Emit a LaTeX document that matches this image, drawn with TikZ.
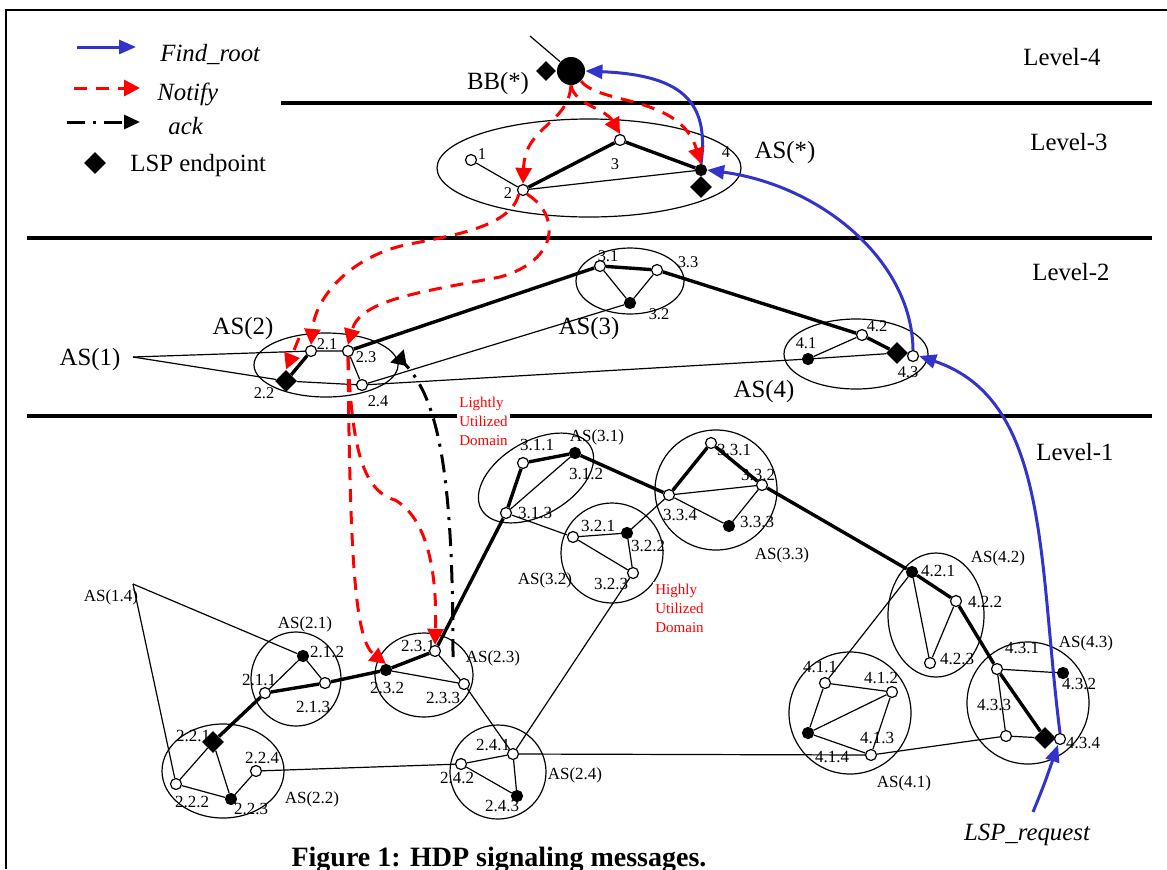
\documentclass[tikz,border=0pt]{standalone}
\usepackage{fontspec}
\setmainfont{Liberation Serif}
\usetikzlibrary{arrows.meta,shapes.geometric}

\definecolor{rootblue}{RGB}{51,51,204}

\tikzset{
  rtr/.style={circle,draw,fill=white,line width=0.6pt,inner sep=0pt,minimum size=5.5pt},
  brtr/.style={circle,draw,fill=black,line width=0.6pt,inner sep=0pt,minimum size=5.5pt},
  lspend/.style={diamond,fill=black,inner sep=0pt,minimum size=11pt},
  dom/.style={ellipse,draw,line width=0.6pt,inner sep=0pt},
  lnk/.style={line width=0.6pt},
  lsp/.style={line width=1.7pt},
  lvl/.style={line width=2pt},
  numlab/.style={inner sep=0pt,font=\fontsize{8.2}{9}\selectfont},
  sublab/.style={inner sep=0pt,font=\fontsize{8.5}{10}\selectfont},
  biglab/.style={inner sep=0pt,font=\fontsize{12.4}{14}\selectfont},
  redlab/.style={inner sep=1pt,align=left,text=red,fill=white,font=\fontsize{7.5}{9.5}\selectfont},
  findroot/.style={rootblue,line width=1.5pt,-{Triangle[length=8.5pt,width=7pt]}},
  notify/.style={red,line width=1.5pt,dash pattern=on 6.5pt off 4.5pt,-{Triangle[length=8pt,width=8pt]}},
  ackmsg/.style={black,line width=1.5pt,dash pattern=on 9pt off 4pt on 1.5pt off 4pt,-{Triangle[length=8pt,width=7pt]}}
}

\begin{document}
\begin{tikzpicture}[x=0.5pt,y=-0.5pt]
\useasboundingbox (0,0) rectangle (1167,869);
\clip (0,0) rectangle (1167,869);

% frame and level lines
\draw[line width=1pt] (6,869) -- (6,10) -- (1167,10);
\draw[lvl] (281,103) -- (1152,103);
\draw[lvl] (27,238) -- (1152,238);
\draw[lvl] (27,416) -- (1152,416);

\node[biglab,anchor=base west] (lv4) at (1023,65) {Level-4};
\node[biglab,anchor=base west] (lv3) at (1030,150) {Level-3};
\node[biglab,anchor=base west] (lv2) at (1032,280) {Level-2};
\node[biglab,anchor=base west] (lv1) at (1036,460) {Level-1};

% legend
\coordinate (lgf1) at (77,47);
\coordinate (lgf2) at (136,47);
\coordinate (lgn1) at (74,88);
\coordinate (lgn2) at (140,88);
\coordinate (lga1) at (67,122);
\coordinate (lga2) at (140,122);
\draw[findroot] (lgf1) -- (lgf2);
\draw[notify] (lgn1) -- (lgn2);
\draw[ackmsg] (lga1) -- (lga2);
\node[lspend] (lgd) at (95,163) {};
\node[biglab,anchor=base west,font=\fontsize{12.4}{14}\selectfont\itshape] (lgftxt) at (160,61) {Find\_root};
\node[biglab,anchor=base west,font=\fontsize{12.4}{14}\selectfont\itshape] (lgntxt) at (157,100) {Notify};
\node[biglab,anchor=base west,font=\fontsize{12.4}{14}\selectfont\itshape] (lgatxt) at (168,134) {ack};
\node[biglab,anchor=base west] (lgdtxt) at (130,171) {LSP endpoint};

% domains
\node[dom,minimum width=152pt,minimum height=49pt] (asS) at (589,168) {};
\node[dom,minimum width=72pt,minimum height=32pt] (as2) at (326,365) {};
\node[dom,minimum width=54pt,minimum height=33pt] (as3) at (630,281) {};
\node[dom,minimum width=72pt,minimum height=35pt] (as4) at (856,354) {};
\node[dom,minimum width=63pt,minimum height=37pt,rotate=30] (as31) at (536,478) {};
\node[dom,minimum width=51pt,minimum height=50pt] (as32) at (612,553) {};
\node[dom,minimum width=61pt,minimum height=60pt] (as33) at (716,490) {};
\node[dom,minimum width=45pt,minimum height=47pt] (as21) at (296,679) {};
\node[dom,minimum width=61pt,minimum height=47pt] (as22) at (223,771) {};
\node[dom,minimum width=49pt,minimum height=42pt] (as23) at (424,675) {};
\node[dom,minimum width=48pt,minimum height=47pt] (as24) at (498,772) {};
\node[dom,minimum width=48pt,minimum height=62pt] (as42) at (936,615) {};
\node[dom,minimum width=61pt,minimum height=61pt] (as41) at (850,713) {};
\node[dom,minimum width=61pt,minimum height=61pt] (as43) at (1028,703) {};

% domain names
\node[biglab] (tbb) at (498,84) {BB(*)};
\node[biglab] (tasS) at (785,153) {AS(*)};
\node[biglab] (tas1) at (90,360) {AS(1)};
\node[biglab] (tas2) at (243,329) {AS(2)};
\node[biglab] (tas3) at (589,329) {AS(3)};
\node[biglab] (tas4) at (764,392) {AS(4)};
\node[sublab] (tas14) at (111,597) {AS(1.4)};
\node[sublab] (tas21) at (305,624) {AS(2.1)};
\node[sublab] (tas22) at (312,799) {AS(2.2)};
\node[sublab] (tas23) at (493,658) {AS(2.3)};
\node[sublab] (tas24) at (575,775) {AS(2.4)};
\node[sublab] (tas31) at (597,437) {AS(3.1)};
\node[sublab] (tas32) at (545,580) {AS(3.2)};
\node[sublab] (tas33) at (782,555) {AS(3.3)};
\node[sublab] (tas41) at (904,783) {AS(4.1)};
\node[sublab] (tas42) at (998,558) {AS(4.2)};
\node[sublab] (tas43) at (1086,643) {AS(4.3)};
\node[redlab,anchor=west] (tlight) at (457,421) {Lightly\\Utilized\\Domain};
\node[redlab,anchor=west] (theavy) at (653,608) {Highly\\Utilized\\Domain};

% router labels
\node[numlab] (t1) at (482,154) {1};
\node[numlab] (t2) at (508,193) {2};
\node[numlab] (t3) at (615,164) {3};
\node[numlab] (t4) at (726,152) {4};
\node[numlab] (t21) at (327,344) {2.1};
\node[numlab] (t22) at (264,393) {2.2};
\node[numlab] (t23) at (366,357) {2.3};
\node[numlab] (t24) at (378,401) {2.4};
\node[numlab] (t31) at (608,256) {3.1};
\node[numlab] (t32) at (659,314) {3.2};
\node[numlab] (t33) at (688,262) {3.3};
\node[numlab] (t41) at (806,343) {4.1};
\node[numlab] (t42) at (877,326) {4.2};
\node[numlab] (t43) at (908,372) {4.3};
\node[sublab] (t211) at (259,680) {2.1.1};
\node[sublab] (t212) at (327,652) {2.1.2};
\node[sublab] (t213) at (313,707) {2.1.3};
\node[sublab] (t221) at (193,736) {2.2.1};
\node[sublab] (t222) at (192,802) {2.2.2};
\node[sublab] (t223) at (251,809) {2.2.3};
\node[sublab] (t224) at (262,758) {2.2.4};
\node[sublab] (t231) at (418,646) {2.3.1};
\node[sublab] (t232) at (387,688) {2.3.2};
\node[sublab] (t233) at (443,698) {2.3.3};
\node[sublab] (t241) at (493,745) {2.4.1};
\node[sublab] (t242) at (457,778) {2.4.2};
\node[sublab] (t243) at (502,806) {2.4.3};
\node[sublab] (t311) at (537,445) {3.1.1};
\node[sublab] (t312) at (586,474) {3.1.2};
\node[sublab] (t313) at (535,513) {3.1.3};
\node[sublab] (t321) at (598,526) {3.2.1};
\node[sublab] (t322) at (648,546) {3.2.2};
\node[sublab] (t323) at (611,584) {3.2.3};
\node[sublab] (t331) at (734,450) {3.3.1};
\node[sublab] (t332) at (758,475) {3.3.2};
\node[sublab] (t333) at (757,522) {3.3.3};
\node[sublab] (t334) at (680,515) {3.3.4};
\node[sublab] (t411) at (820,667) {4.1.1};
\node[sublab] (t412) at (881,678) {4.1.2};
\node[sublab] (t413) at (877,738) {4.1.3};
\node[sublab] (t414) at (832,757) {4.1.4};
\node[sublab] (t421) at (938,571) {4.2.1};
\node[sublab] (t422) at (985,602) {4.2.2};
\node[sublab] (t423) at (957,659) {4.2.3};
\node[sublab] (t431) at (1022,648) {4.3.1};
\node[sublab] (t432) at (1079,684) {4.3.2};
\node[sublab] (t433) at (994,705) {4.3.3};
\node[sublab] (t434) at (1083,743) {4.3.4};

% routers, level 4 and 3
\node[circle,fill=black,inner sep=0pt,minimum size=14pt] (bb) at (571,71) {};
\node[lspend,minimum size=10pt] (bbd) at (546,71) {};
\node[rtr] (s1) at (471,160) {};
\node[rtr] (s2) at (523,190) {};
\node[rtr] (s3) at (620,140) {};
\node[brtr] (s4) at (701,170) {};
\node[lspend] (sd) at (701,187) {};

% routers, level 2
\node[rtr] (n21) at (311,351) {};
\node[lspend] (n22) at (286,381) {};
\node[rtr] (n23) at (348,351) {};
\node[rtr] (n24) at (362,385) {};
\node[rtr] (n31) at (600,266) {};
\node[brtr] (n32) at (630,303) {};
\node[rtr] (n33) at (657,270) {};
\node[brtr] (n41) at (808,359) {};
\node[rtr] (n42) at (862,335) {};
\node[lspend] (d43) at (897,353) {};
\node[rtr] (n43) at (913,356) {};

% routers, level 1
\node[rtr] (n211) at (265,693) {};
\node[brtr] (n212) at (303,656) {};
\node[rtr] (n213) at (325,683) {};
\node[lspend] (n221) at (213,742) {};
\node[rtr] (n222) at (176,784) {};
\node[brtr] (n223) at (231,799) {};
\node[rtr] (n224) at (256,771) {};
\node[rtr] (n231) at (435,651) {};
\node[brtr] (n232) at (386,670) {};
\node[rtr] (n233) at (464,684) {};
\node[rtr] (n241) at (513,754) {};
\node[rtr] (n242) at (461,764) {};
\node[brtr] (n243) at (517,796) {};
\node[rtr] (n311) at (523,463) {};
\node[brtr] (n312) at (575,453) {};
\node[rtr] (n313) at (506,513) {};
\node[rtr] (n321) at (573,537) {};
\node[brtr] (n322) at (627,533) {};
\node[rtr] (n323) at (633,573) {};
\node[rtr] (n331) at (711,443) {};
\node[rtr] (n332) at (762,485) {};
\node[brtr] (n333) at (729,526) {};
\node[rtr] (n334) at (669,495) {};
\node[rtr] (n411) at (825,683) {};
\node[rtr] (n412) at (892,692) {};
\node[rtr] (n413) at (871,755) {};
\node[brtr] (n414) at (808,733) {};
\node[brtr] (n421) at (912,572) {};
\node[rtr] (n422) at (956,601) {};
\node[rtr] (n423) at (930,663) {};
\node[rtr] (n431) at (997,669) {};
\node[brtr] (n432) at (1063,673) {};
\node[rtr] (n433) at (1006,736) {};
\node[lspend] (d434) at (1045,738) {};
\node[rtr] (n434) at (1060,739) {};

% links, level 4 and 3
\coordinate (bbtail) at (530,36);
\draw[lnk] (bbtail) -- (bb);
\draw[lnk] (s1) -- (s2) -- (s4);
\draw[lsp] (s2) -- (s3) -- (s4);

% links, level 2
\coordinate (as1pt) at (133,357);
\draw[lnk] (as1pt) -- (n21);
\draw[lnk] (as1pt) -- (n22);
\draw[lsp] (n21) -- (n22);
\draw[lnk] (n21) -- (n23) -- (n24);
\draw[lnk] (n22) -- (n24) -- (n41) -- (d43);
\draw[lnk] (n24) -- (n32);
\draw[lnk] (n41) -- (n42);
\draw[lnk] (n31) -- (n32) -- (n33);
\draw[lsp] (n23) -- (n31) -- (n33) -- (n42) -- (d43);

% links, level 1
\coordinate (as14pt) at (133,584);
\draw[lnk] (as14pt) -- (n212);
\draw[lnk] (as14pt) -- (n222);
\draw[lnk] (n222) -- (n221) -- (n223) -- (n224) -- (n242);
\draw[lnk] (n222) -- (n223);
\draw[lnk] (n211) -- (n212) -- (n213);
\draw[lnk] (n232) -- (n233) -- (n231);
\draw[lnk] (n233) -- (n241) -- (n242) -- (n243) -- (n241);
\draw[lnk] (n241) -- (n323);
\draw[lnk] (n241) -- (n413);
\draw[lnk] (n312) -- (n313) -- (n321) -- (n322) -- (n323) -- (n321);
\draw[lnk] (n322) -- (n334) -- (n332) -- (n333) -- (n334);
\draw[lnk] (n421) -- (n423) -- (n422);
\draw[lnk] (n421) -- (n411) -- (n412) -- (n413) -- (n414) -- (n411);
\draw[lnk] (n414) -- (n412);
\draw[lnk] (n413) -- (n433) -- (d434);
\draw[lnk] (n433) -- (n431) -- (n432);
\draw[lsp] (n221) -- (n211) -- (n213) -- (n232) -- (n231) -- (n313) -- (n311) -- (n312) -- (n334) -- (n331) -- (n332) -- (n421) -- (n422) -- (n431) -- (d434);

% Find_root
\node[inner sep=0pt,anchor=base,font=\fontsize{12.4}{14}\selectfont\itshape] (lspreq) at (1027,840) {LSP\_request};
\coordinate (reqtail) at (1033,812);
\draw[findroot] (reqtail) .. controls (1044,785) .. (n434);
\draw[findroot] (n434.north) .. controls (1038,560) and (1050,400) .. (n43.east);
\draw[findroot] (n43.north) .. controls (912,260) and (820,185) .. (s4.east);
\draw[findroot] (s4.north) .. controls (710,100) and (680,75) .. (bb.east);

% Notify
\draw[notify] (bb.south) .. controls (575,105) and (605,108) .. (s3.north);
\draw[notify] (bb.south east) .. controls (600,105) and (680,95) .. (s4.north);
\draw[notify] (bb.south) .. controls (568,125) and (525,125) .. (s2.north);
\draw[notify] (s2.south west) .. controls (510,232) and (430,238) .. (397,247) .. controls (345,262) and (315,300) .. (n21.north);
\draw[notify] (s2.south east) .. controls (560,215) and (560,260) .. (500,277) .. controls (420,292) and (360,300) .. (n23.north);
\coordinate (n21red) at (299,338);
\draw[notify] (n21red) -- (n22.north);
\draw[notify] (n23.south) .. controls (350,560) and (355,640) .. (n232.north);
\draw[notify] (n23.south) .. controls (352,440) and (360,490) .. (395,500) .. controls (430,520) and (437,580) .. (n231.north);

% ack
\coordinate (acktail) at (453,657);
\coordinate (ackhead) at (397,356);
\draw[ackmsg,-{Triangle[length=7pt,width=9pt,reversed]}] (acktail) .. controls (453,480) and (440,400) .. (ackhead);

% caption
\node[inner sep=0pt,anchor=base,font=\fontsize{14}{16}\selectfont\bfseries] (cap) at (499,866) {Figure 1: HDP signaling messages.};
\end{tikzpicture}
\end{document}
